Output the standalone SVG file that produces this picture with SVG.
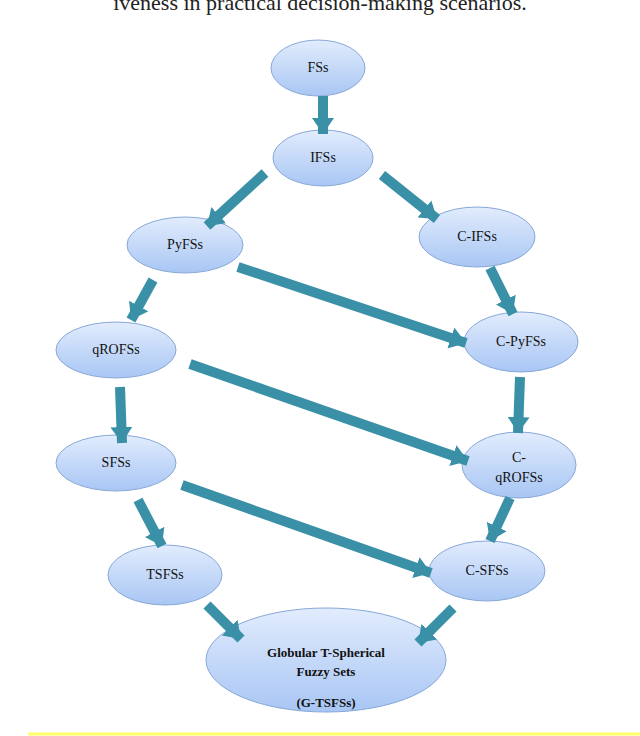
<svg xmlns="http://www.w3.org/2000/svg" width="640" height="736" viewBox="0 0 640 736">
<style>
.n{stroke:#88a8d8;stroke-width:1;fill:url(#g)}
.t{font-family:"Liberation Serif",serif;font-size:14px;fill:#111;text-anchor:middle}
.c line{stroke:#3a90a6;stroke-width:10}
</style>
<defs>
<linearGradient id="g" x1="0" y1="0" x2="0" y2="1"><stop offset="0" stop-color="#e2ecfd"/><stop offset="1" stop-color="#a8c6f4"/></linearGradient>
<marker id="a" markerUnits="userSpaceOnUse" markerWidth="24" markerHeight="24" refX="16" refY="12" orient="auto"><path d="M0,1 L16,12 L0,23 Z" fill="#3a90a6"/></marker>
</defs>
<rect width="640" height="736" fill="#fff"/>
<text x="320" y="10" style="font-family:'Liberation Serif',serif;font-size:22px;fill:#222;text-anchor:middle">iveness in practical decision-making scenarios.</text>
<line x1="28" y1="734" x2="640" y2="734" stroke="#ffff66" stroke-width="3"/>
<g id="fss"><ellipse class="n" cx="318" cy="68" rx="47" ry="28"/><text class="t" x="318" y="72">FSs</text></g>
<g id="ifss"><ellipse class="n" cx="323" cy="158" rx="50" ry="28"/><text class="t" x="323" y="162">IFSs</text></g>
<g id="pyfss"><ellipse class="n" cx="185" cy="245" rx="58" ry="28"/><text class="t" x="185" y="249">PyFSs</text></g>
<g id="cifss"><ellipse class="n" cx="477" cy="237" rx="58" ry="30"/><text class="t" x="477" y="241">C-IFSs</text></g>
<g id="qrofss"><ellipse class="n" cx="116" cy="350" rx="60" ry="28"/><text class="t" x="116" y="354">qROFSs</text></g>
<g id="cpyfss"><ellipse class="n" cx="521" cy="342" rx="57" ry="30"/><text class="t" x="521" y="346">C-PyFSs</text></g>
<g id="sfss"><ellipse class="n" cx="116" cy="463" rx="60" ry="28"/><text class="t" x="116" y="467">SFSs</text></g>
<g id="cqrofss"><ellipse class="n" cx="519" cy="465" rx="57" ry="33"/><text class="t" x="519" y="462">C-</text><text class="t" x="519" y="482">qROFSs</text></g>
<g id="tsfss"><ellipse class="n" cx="165" cy="575" rx="57" ry="30"/><text class="t" x="165" y="579">TSFSs</text></g>
<g id="csfss"><ellipse class="n" cx="487" cy="571" rx="58" ry="30"/><text class="t" x="487" y="575">C-SFSs</text></g>
<g id="gtsfss"><ellipse class="n" cx="326" cy="660" rx="120" ry="52"/><text class="t" x="326" y="657" style="font-weight:bold;font-size:13px">Globular  T-Spherical</text><text class="t" x="326" y="676" style="font-weight:bold;font-size:13px">Fuzzy  Sets</text><text class="t" x="326" y="707" style="font-weight:bold;font-size:13px">(G-TSFSs)</text></g>
<g class="c">
<line x1="323" y1="96" x2="323" y2="134" marker-end="url(#a)"/>
<line x1="265" y1="173" x2="207" y2="226" marker-end="url(#a)"/>
<line x1="382" y1="175" x2="437" y2="219" marker-end="url(#a)"/>
<line x1="238" y1="267" x2="466" y2="343" marker-end="url(#a)"/>
<line x1="153" y1="280" x2="131" y2="320" marker-end="url(#a)"/>
<line x1="490" y1="268" x2="513" y2="314" marker-end="url(#a)"/>
<line x1="120" y1="387" x2="122" y2="443" marker-end="url(#a)"/>
<line x1="190" y1="364" x2="468" y2="461" marker-end="url(#a)"/>
<line x1="520" y1="377" x2="518" y2="433" marker-end="url(#a)"/>
<line x1="138" y1="500" x2="162" y2="546" marker-end="url(#a)"/>
<line x1="182" y1="485" x2="431" y2="573" marker-end="url(#a)"/>
<line x1="510" y1="498" x2="490" y2="541" marker-end="url(#a)"/>
<line x1="207" y1="605" x2="241" y2="639" marker-end="url(#a)"/>
<line x1="453" y1="608" x2="418" y2="643" marker-end="url(#a)"/>
</g>
</svg>
